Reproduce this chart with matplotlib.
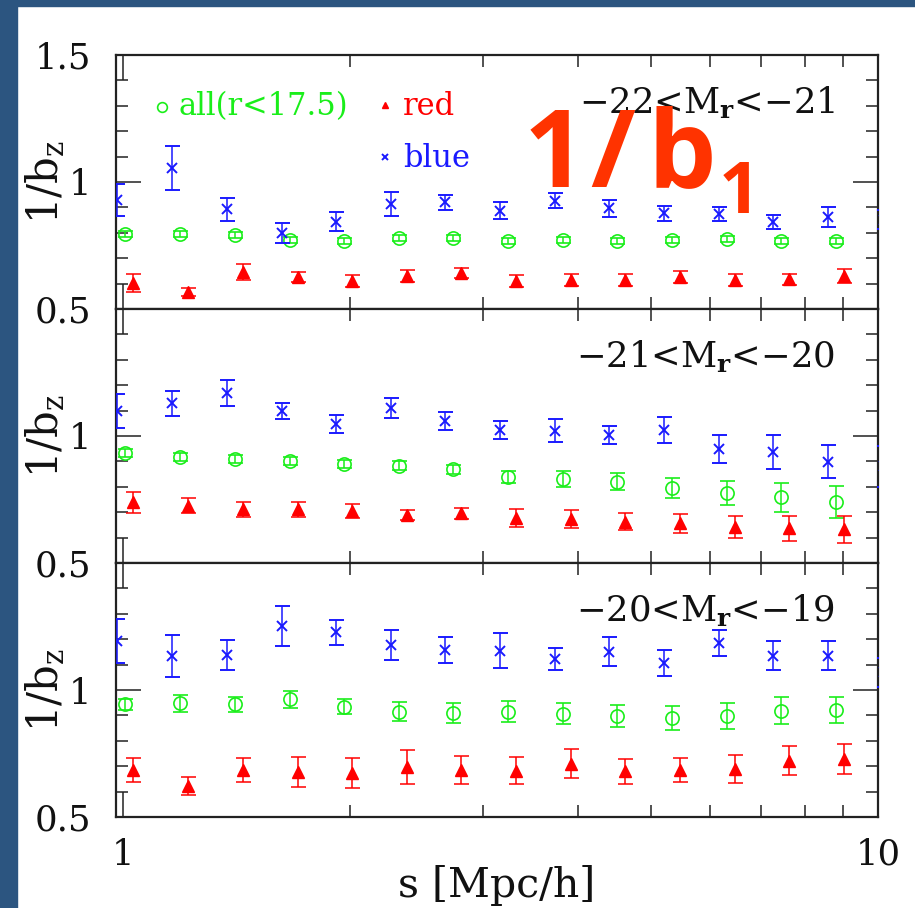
import numpy as np
import matplotlib
matplotlib.use('Agg')
import matplotlib.pyplot as plt
from matplotlib.ticker import FixedLocator, FixedFormatter, NullFormatter
from matplotlib.patches import Rectangle

plt.rcParams['font.family'] = ['DejaVu Serif']
plt.rcParams['mathtext.fontset'] = 'dejavuserif'

# separation bins s [Mpc/h] (blue has one extra bin just past 10)
s_bins = [1.006, 1.190, 1.407, 1.664, 1.962, 2.321, 2.736, 3.236, 3.826,
          4.511, 5.336, 6.310, 7.438, 8.799, 10.45]

panel_labels = [r'$-$22<M$_\mathbf{r}$<$-$21',
                r'$-$21<M$_\mathbf{r}$<$-$20',
                r'$-$20<M$_\mathbf{r}$<$-$19']

# all galaxies (r<17.5), one list per luminosity bin
all_y = [
    [0.795, 0.795, 0.791, 0.772, 0.768, 0.780, 0.780, 0.768, 0.772, 0.768, 0.772, 0.775, 0.768, 0.768],
    [0.934, 0.918, 0.908, 0.903, 0.890, 0.883, 0.869, 0.840, 0.831, 0.820, 0.794, 0.775, 0.759, 0.740],
    [0.944, 0.948, 0.944, 0.963, 0.934, 0.915, 0.911, 0.915, 0.906, 0.898, 0.889, 0.898, 0.919, 0.921],
]
all_err = [
    [0.012, 0.012, 0.012, 0.012, 0.013, 0.012, 0.012, 0.012, 0.012, 0.012, 0.012, 0.013, 0.013, 0.013],
    [0.016, 0.016, 0.016, 0.016, 0.017, 0.017, 0.018, 0.024, 0.031, 0.033, 0.040, 0.046, 0.057, 0.064],
    [0.022, 0.034, 0.030, 0.033, 0.029, 0.039, 0.039, 0.040, 0.041, 0.044, 0.048, 0.052, 0.052, 0.052],
]

red_y = [
    [0.602, 0.567, 0.646, 0.627, 0.610, 0.630, 0.642, 0.610, 0.614, 0.614, 0.627, 0.614, 0.617, 0.630],
    [0.739, 0.726, 0.711, 0.711, 0.705, 0.689, 0.695, 0.676, 0.673, 0.663, 0.657, 0.643, 0.636, 0.632],
    [0.685, 0.623, 0.685, 0.678, 0.675, 0.696, 0.685, 0.682, 0.709, 0.680, 0.685, 0.689, 0.722, 0.727],
]
red_err = [
    [0.035, 0.015, 0.030, 0.020, 0.022, 0.022, 0.020, 0.022, 0.022, 0.022, 0.024, 0.022, 0.022, 0.027],
    [0.041, 0.028, 0.031, 0.028, 0.028, 0.020, 0.020, 0.035, 0.036, 0.035, 0.037, 0.044, 0.049, 0.054],
    [0.046, 0.035, 0.047, 0.059, 0.059, 0.068, 0.057, 0.054, 0.057, 0.049, 0.046, 0.054, 0.056, 0.059],
]

blue_y = [
    [0.929, 1.056, 0.893, 0.799, 0.843, 0.913, 0.920, 0.887, 0.926, 0.897, 0.877, 0.873, 0.843, 0.862, 0.852],
    [1.098, 1.129, 1.168, 1.098, 1.047, 1.109, 1.060, 1.024, 1.021, 1.004, 1.024, 0.949, 0.938, 0.899, 0.881],
    [1.193, 1.135, 1.138, 1.253, 1.227, 1.177, 1.157, 1.155, 1.121, 1.151, 1.107, 1.184, 1.135, 1.135, 1.069],
]
blue_err = [
    [0.063, 0.087, 0.045, 0.040, 0.037, 0.046, 0.030, 0.033, 0.030, 0.033, 0.030, 0.028, 0.028, 0.038, 0.037],
    [0.066, 0.050, 0.051, 0.031, 0.037, 0.040, 0.035, 0.037, 0.044, 0.035, 0.050, 0.054, 0.067, 0.066, 0.081],
    [0.087, 0.082, 0.059, 0.079, 0.048, 0.058, 0.050, 0.068, 0.043, 0.058, 0.051, 0.052, 0.058, 0.058, 0.056],
]

green = '#1aee1a'
red = '#ff0000'
blue = '#1a1aff'
frame = '#222222'

W, H = 915, 908
fig = plt.figure(figsize=(W / 100, H / 100), dpi=100)

# dark blue slide border on left and top
fig.patches.append(Rectangle((0, 0), 17 / W, 1, transform=fig.transFigure,
                             color='#2c5580', zorder=-10))
fig.patches.append(Rectangle((0, 1 - 6 / H), 1, 6 / H, transform=fig.transFigure,
                             color='#2c5580', zorder=-10))

left, right = 116 / W, 878 / W
tops = [55, 309, 563]
ph = 254
s = np.array(s_bins)

axes = []
for i in range(3):
    bottom = 1 - (tops[i] + ph) / H
    ax = fig.add_axes([left, bottom, right - left, ph / H])
    axes.append(ax)
    ax.set_xscale('log')
    ax.set_xlim(0.979, 10.0)
    ax.set_ylim(0.5, 1.5)

    n = len(all_y[i])
    ax.errorbar(s[:n], all_y[i], yerr=all_err[i], fmt='o', ms=9.5, mfc='none',
                mec=green, mew=1.2, ecolor=green, elinewidth=1.1, capsize=5.4,
                capthick=1.1, zorder=3)
    ax.errorbar(s[:n] * 1.025, red_y[i], yerr=red_err[i], fmt='^', ms=8.5,
                mfc=red, mec=red, ecolor=red, elinewidth=1.1, capsize=5.4,
                capthick=1.1, zorder=3)
    nb = len(blue_y[i])
    ax.errorbar(s[:nb] * 0.976, blue_y[i], yerr=blue_err[i], fmt='x', ms=6.5,
                mec=blue, mew=1.4, ecolor=blue, elinewidth=1.1, capsize=5.4,
                capthick=1.1, zorder=4)

    ax.xaxis.set_major_locator(FixedLocator([1, 10]))
    ax.xaxis.set_minor_locator(FixedLocator([2, 3, 4, 5, 6, 7, 8, 9]))
    ax.xaxis.set_minor_formatter(NullFormatter())
    if i == 2:
        ax.xaxis.set_major_formatter(FixedFormatter(['1', '10']))
    else:
        ax.xaxis.set_major_formatter(NullFormatter())

    ax.yaxis.set_major_locator(FixedLocator([0.5, 1.0, 1.5]))
    ax.yaxis.set_minor_locator(FixedLocator([0.6, 0.7, 0.8, 0.9, 1.1, 1.2, 1.3, 1.4]))
    if i == 0:
        ax.yaxis.set_major_formatter(FixedFormatter(['0.5', '1', '1.5']))
    else:
        ax.yaxis.set_major_formatter(FixedFormatter(['0.5', '1', '']))

    ax.tick_params(which='both', direction='in', top=True, right=True,
                   color=frame, width=1.1, labelsize=25.5, labelcolor='#111111')
    ax.tick_params(which='major', length=18)
    ax.tick_params(which='minor', length=8.6)
    ax.tick_params(axis='y', pad=18)
    ax.tick_params(axis='x', pad=15)
    for sp in ax.spines.values():
        sp.set_linewidth(1.6)
        sp.set_color(frame)

    ax.set_ylabel(r'1/b$_\mathrm{z}$', fontsize=30, color='#111111')
    ax.yaxis.set_label_coords(-0.064, 0.5)

    ax.text(0.9436, 0.772, panel_labels[i], transform=ax.transAxes,
            ha='right', va='baseline', fontsize=25.5, color='#111111')

# legend drawn by hand in the top panel
ax = axes[0]
ax.plot([0.0604], [0.795], 'o', ms=7, mfc='none', mec=green, mew=1.2,
        transform=ax.transAxes, clip_on=False)
ax.text(0.0814, 0.764, 'all(r<17.5)', transform=ax.transAxes, color=green,
        fontsize=22, va='baseline')
ax.plot([0.353], [0.803], '^', ms=5, color=red, transform=ax.transAxes)
ax.text(0.3766, 0.764, 'red', transform=ax.transAxes, color=red,
        fontsize=22, va='baseline')
ax.plot([0.353], [0.598], 'x', ms=5, mew=1.4, color=blue, transform=ax.transAxes)
ax.text(0.3766, 0.559, 'blue', transform=ax.transAxes, color=blue,
        fontsize=22, va='baseline')

fig.text(497 / W, 1 - 897 / H, 's [Mpc/h]', ha='center', va='baseline',
         fontsize=29.5, color='#111111')

# big overlay annotation, glyphs placed one by one to match the spread
big = dict(fontweight='bold', family='Open Sans', color='#ff3300',
           va='baseline', zorder=10)
fig.text(524 / W, 1 - 187 / H, '1', fontsize=78, **big)
fig.text(590 / W, 1 - 187 / H, '/', fontsize=78, **big)
fig.text(648 / W, 1 - 187 / H, 'b', fontsize=78, **big)
fig.text(719 / W, 1 - 213 / H, '1', fontsize=52, **big)

fig.savefig('out.png', dpi=100)
